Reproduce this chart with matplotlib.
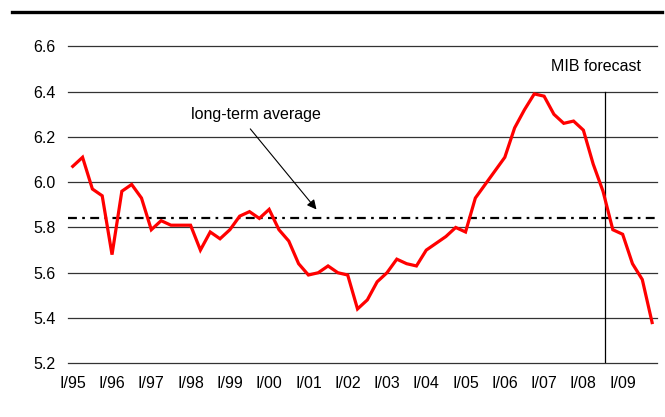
import matplotlib.pyplot as plt

# Fonts similar to Arial
plt.rcParams['font.family'] = ['Liberation Sans', 'DejaVu Sans']

# Quarterly values, I/95 .. IV/09
values = [6.07, 6.11, 5.97, 5.94, 5.68, 5.96, 5.99, 5.93,
          5.79, 5.83, 5.81, 5.81, 5.81, 5.70, 5.78, 5.75,
          5.79, 5.85, 5.87, 5.84, 5.88, 5.79, 5.74, 5.64,
          5.59, 5.60, 5.63, 5.60, 5.59, 5.44, 5.48, 5.56,
          5.60, 5.66, 5.64, 5.63, 5.70, 5.73, 5.76, 5.80,
          5.78, 5.93, 5.99, 6.05, 6.11, 6.24, 6.32, 6.39,
          6.38, 6.30, 6.26, 6.27, 6.23, 6.08, 5.96, 5.79,
          5.77, 5.64, 5.57, 5.38]
year_labels = ['I/95', 'I/96', 'I/97', 'I/98', 'I/99', 'I/00', 'I/01', 'I/02',
               'I/03', 'I/04', 'I/05', 'I/06', 'I/07', 'I/08', 'I/09']
y_ticks = [5.2, 5.4, 5.6, 5.8, 6.0, 6.2, 6.4, 6.6]
long_term_avg = 5.84
forecast_start = 54.2  # position of the forecast divider

x = list(range(len(values)))

fig = plt.figure(figsize=(6.65, 4.17), dpi=100)
ax = fig.add_axes([0.102, 0.1288, 0.886, 0.76])

# Horizontal gridlines
for yv in y_ticks:
    ax.axhline(yv, color='#333333', lw=0.9, zorder=1, clip_on=False)

# Long-term average (dash-dot)
ax.axhline(long_term_avg, color='black', lw=1.6, ls=(0, (4, 2.4, 1.2, 2.4)), zorder=2)

# Forecast divider
ax.plot([forecast_start, forecast_start], [5.2, 6.4], color='black', lw=0.9, zorder=2)

# Main series
ax.plot(x, values, color='#ff0000', lw=2.3, zorder=3, solid_joinstyle='miter')

# Annotations
ax.text(18.7, 6.30, 'long-term average', ha='center', va='center', fontsize=11.5)
ax.annotate('', xy=(25.0, 5.87), xytext=(17.9, 6.245),
            arrowprops=dict(arrowstyle='-|>', color='black', lw=0.8, mutation_scale=14))
ax.text(57.9, 6.51, 'MIB forecast', ha='right', va='center', fontsize=11.5)

ax.set_xlim(-0.5, 59.5)
ax.set_ylim(5.2, 6.6)
ax.set_yticks(y_ticks)
ax.set_yticklabels([f'{v:.1f}' for v in y_ticks])
ax.set_xticks(list(range(0, 60, 4)))
ax.set_xticklabels(year_labels)
ax.tick_params(axis='both', length=0, labelsize=11.5)
ax.tick_params(axis='y', pad=9)
ax.tick_params(axis='x', pad=9)
for s in ax.spines.values():
    s.set_visible(False)

# Thick rule across the top of the figure
fig.add_artist(plt.Line2D([12 / 665, 662 / 665], [1 - 12.3 / 417] * 2,
                          color='black', lw=2.4, transform=fig.transFigure))

fig.savefig('out.png', dpi=100)
